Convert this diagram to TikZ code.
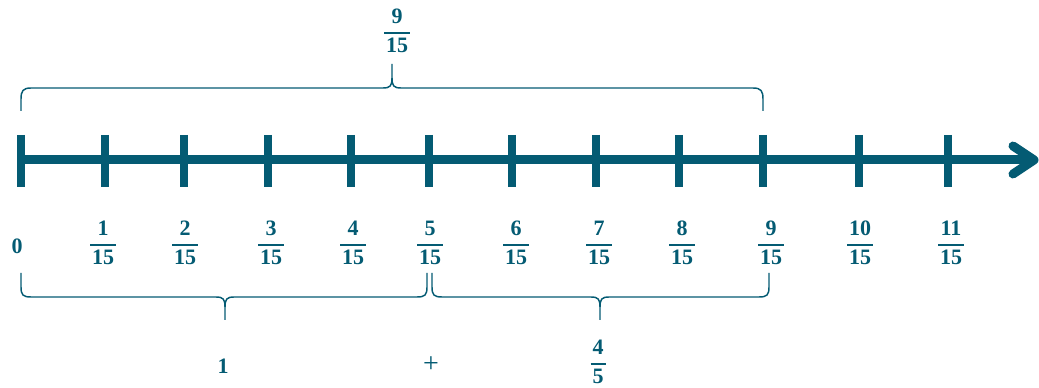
\documentclass[tikz,border=0pt]{standalone}
\usepackage{fontspec}
\setmainfont{Liberation Serif}
\usepackage{array}
\usetikzlibrary{calc}
\definecolor{nlcol}{HTML}{045B73}
\newcommand{\fr}[2]{{\setlength{\arrayrulewidth}{1.7pt}\renewcommand{\arraystretch}{1.0}\begin{tabular}{@{\hspace{1.5pt}}c@{\hspace{1.5pt}}}#1\\\hline #2\end{tabular}}}
\begin{document}
\begin{tikzpicture}[x=0.75pt,y=-0.75pt,
  axis/.style={draw=nlcol,line width=6.75pt},
  tickst/.style={draw=nlcol,line width=6pt},
  bracest/.style={draw=nlcol,line width=1.1pt},
  lab/.style={text=nlcol,font=\bfseries\fontsize{16.5}{19.8}\selectfont,inner sep=0pt}]
\useasboundingbox (0,0) rectangle (1039,388);
\foreach \i/\x in {0/21,1/105,2/184,3/268,4/351,5/429,6/512,7/596,8/679,9/763,10/859,11/948}
  \coordinate (t\i) at (\x,160);
\coordinate (start) at (17,160);
\coordinate (end) at (1034,160);
\draw[axis] (start) -- (end);
\draw[axis,line cap=round,line join=round] (1013,146) -- (end) -- (1013,174);
\foreach \i in {0,...,11}
  \draw[tickst] ($(t\i)+(0,-25)$) -- ($(t\i)+(0,27)$);
% labels
\node[lab] (l0) at (17,246) {0};
\foreach \i/\x in {1/103,2/185,3/271,4/353,5/430,6/516,7/599,8/682,9/771,10/860,11/951}
  \node[lab] (l\i) at (\x,245) {\fr{\i}{15}};
\node[lab] (top) at (397,33) {\fr{9}{15}};
\node[lab] (one) at (223,366) {1};
\node[lab,font=\mdseries\fontsize{21}{24}\selectfont] (plus) at (431,365) {+};
\node[lab] (fourfifths) at (598,364) {\fr{4}{5}};
% top brace
\draw[bracest] (21,111) -- (21,99) .. controls (21,91) and (23,88) .. (31,88) -- (383,88) .. controls (390,88) and (392,86) .. (392,78) -- (392,64);
\draw[bracest] (392,78) .. controls (392,86) and (394,88) .. (401,88) -- (753,88) .. controls (761,88) and (763,91) .. (763,99) -- (763,111);
% bottom brace 1
\draw[bracest] (21,273) -- (21,287) .. controls (21,295) and (23,297) .. (31,297) -- (216,297) .. controls (223,297) and (225,299) .. (225,307) -- (225,320);
\draw[bracest] (225,307) .. controls (225,299) and (227,297) .. (234,297) -- (417,297) .. controls (425,297) and (427,295) .. (427,287) -- (427,273);
% bottom brace 2
\draw[bracest] (432,273) -- (432,287) .. controls (432,295) and (434,297) .. (442,297) -- (591,297) .. controls (598,297) and (600,299) .. (600,307) -- (600,320);
\draw[bracest] (600,307) .. controls (600,299) and (602,297) .. (609,297) -- (759,297) .. controls (767,297) and (769,295) .. (769,287) -- (769,273);
\end{tikzpicture}
\end{document}
